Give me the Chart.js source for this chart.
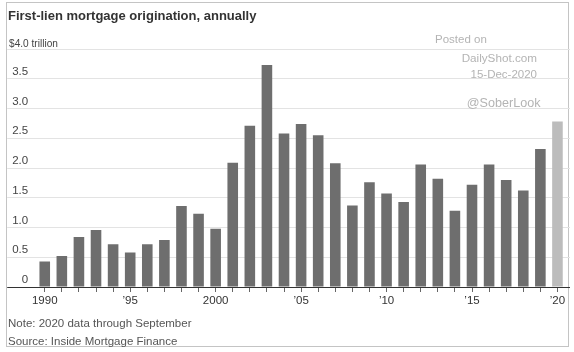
<!DOCTYPE html>
<html><head><meta charset="utf-8">
<script src="https://cdn.jsdelivr.net/npm/chart.js@4.4.1/dist/chart.umd.min.js"></script>
<style>
html,body{margin:0;padding:0;background:#fff;}
#wrap{position:relative;width:574px;height:352px;overflow:hidden;background:#fff;}
#frame{position:absolute;left:6px;top:2px;width:563px;height:345px;border:1px solid #c4c4c4;box-sizing:border-box;}
canvas{position:absolute;left:0;top:0;}
.t{position:absolute;white-space:nowrap;line-height:1;}
.wm{font-family:'Liberation Sans',Arial,sans-serif;color:#b4b4b4;}
</style></head>
<body><div id="wrap">
<div id="frame"></div>
<canvas id="c" width="574" height="352"></canvas>
<div class="t" style="left:8px;top:8.3px;font:bold 13px 'Liberation Sans',Arial,sans-serif;color:#333">First-lien mortgage origination, annually</div>
<div class="t" style="left:9px;top:36.5px;font:11.5px 'Liberation Sans Narrow','Liberation Sans',sans-serif;color:#444;transform:scaleX(0.88);transform-origin:0 0">$4.0 trillion</div>
<div class="t wm" style="left:435px;top:33.5px;font-size:11.5px">Posted on</div>
<div class="t wm" style="right:37px;top:51.8px;font-size:11.7px">DailyShot.com</div>
<div class="t wm" style="right:37px;top:68.5px;font-size:11.5px">15-Dec-2020</div>
<div class="t wm" style="right:33.5px;top:96.6px;font-size:12.6px">@SoberLook</div>
<div class="t" style="left:8px;top:317px;font:11.5px 'Liberation Sans',Arial,sans-serif;color:#555">Note: 2020 data through September</div>
<div class="t" style="left:8px;top:334.6px;font:11.5px 'Liberation Sans',Arial,sans-serif;color:#555">Source: Inside Mortgage Finance</div>
</div>
<script>
const years = [1990,1991,1992,1993,1994,1995,1996,1997,1998,1999,2000,2001,2002,2003,2004,2005,2006,2007,2008,2009,2010,2011,2012,2013,2014,2015,2016,2017,2018,2019,2020];
const origination = [0.43,0.52,0.84,0.96,0.72,0.58,0.72,0.79,1.36,1.23,0.98,2.09,2.71,3.73,2.58,2.74,2.55,2.08,1.37,1.76,1.57,1.43,2.06,1.82,1.28,1.72,2.06,1.80,1.62,2.32,2.78];
const yTicks = [0,0.5,1.0,1.5,2.0,2.5,3.0,3.5,4.0];
const yTickLabels = ['0','0.5','1.0','1.5','2.0','2.5','3.0','3.5',''];
const xTickLabels = {1990:'1990',1995:'\u201995',2000:'2000',2005:'\u201905',2010:'\u201910',2015:'\u201915',2020:'\u201920'};

const axisFont = {family:"'Liberation Sans Narrow','Liberation Sans',sans-serif", size:11.5};
const gridColor = c => (c.tick && c.tick.value === 0) ? '#333' : '#e3e3e3';
const setTicks = s => { s.ticks = yTicks.map(v => ({value:v})); };

new Chart(document.getElementById('c'), {
  type:'bar',
  data:{
    labels: years.map(String),
    datasets:[{
      data: origination,
      backgroundColor: years.map(y => y === 2020 ? '#bcbcbc' : '#6e6e6e'),
      borderWidth:0,
      barPercentage:1,
      categoryPercentage:0.62
    }]
  },
  options:{
    responsive:false,
    animation:false,
    layout:{padding:{left:7,right:4,top:49,bottom:45}},
    plugins:{legend:{display:false},tooltip:{enabled:false}},
    scales:{
      x:{
        grid:{display:true,drawOnChartArea:false,offset:false,tickLength:5,tickColor:'#666',lineWidth:1},
        border:{display:false},
        ticks:{autoSkip:false,maxRotation:0,minRotation:0,padding:2,color:'#333',font:axisFont,
          callback:(v,i)=> xTickLabels[years[i]] || ''},
        afterFit:s=>{s.height=20;}
      },
      y:{
        min:0,max:4,
        afterBuildTicks:setTicks,
        grid:{color:gridColor,tickColor:gridColor,tickLength:29,lineWidth:1},
        border:{display:false},
        ticks:{padding:-21,labelOffset:-7,color:'#444',font:axisFont,
          callback:(v,i)=> yTickLabels[i]},
        afterFit:s=>{s.width=29.2;}
      },
      y2:{
        position:'right',min:0,max:4,
        afterBuildTicks:setTicks,
        grid:{drawOnChartArea:false,color:gridColor,tickColor:gridColor,tickLength:4,lineWidth:1},
        border:{display:false},
        ticks:{display:false},
        afterFit:s=>{s.width=4;}
      }
    }
  }
});
</script>
</body></html>
